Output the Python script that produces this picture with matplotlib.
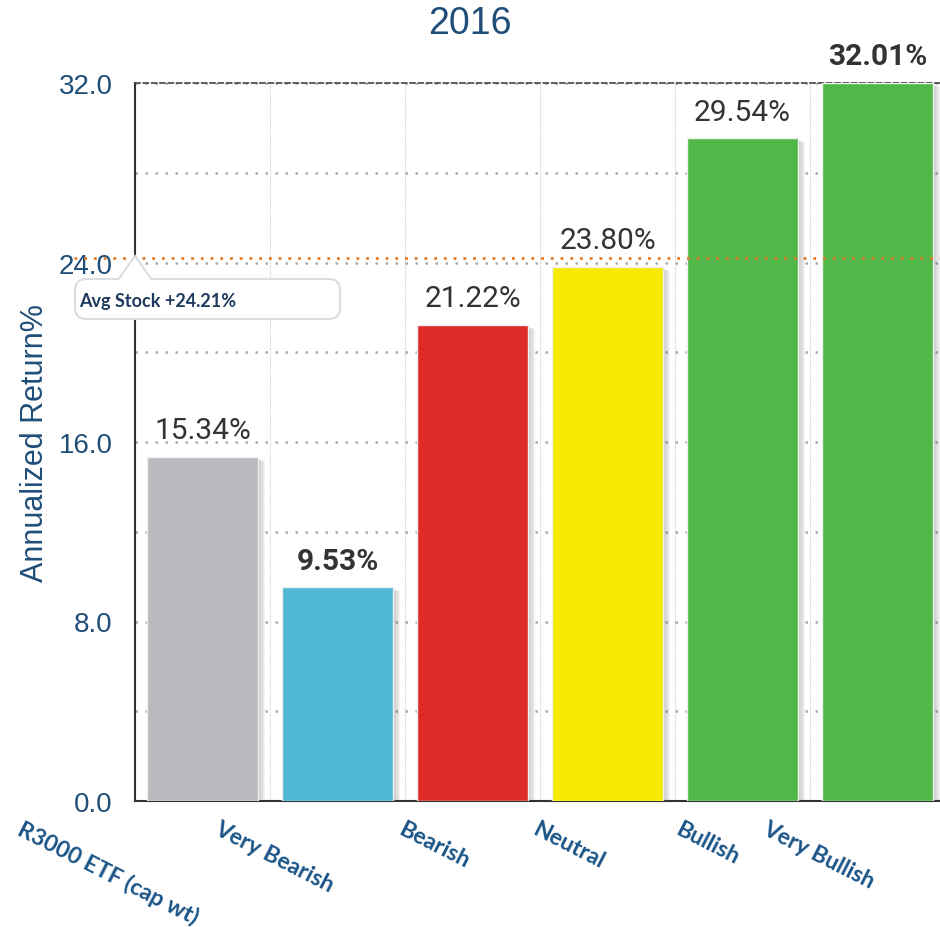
import matplotlib.pyplot as plt
import matplotlib.patheffects as pe
from matplotlib.patches import FancyBboxPatch, Polygon

categories = ['R3000 ETF (cap wt)', 'Very Bearish', 'Bearish', 'Neutral', 'Bullish', 'Very Bullish']
returns = [15.34, 9.53, 21.22, 23.80, 29.54, 32.01]
avg_stock = 24.21
bar_colors = ['#b8babd', '#50b8d3', '#de2b27', '#f6eb00', '#50b748', '#50b748']
bold_labels = ['Very Bearish', 'Very Bullish']

navy = '#1f4e79'

fig = plt.figure(figsize=(9.4, 9.28), dpi=100)
ax = fig.add_axes([135 / 940, 1 - 802 / 928, 810 / 940, 718 / 928])

x = range(len(categories))
# soft shadow on the right of each bar
shadow = [pe.SimplePatchShadow(offset=(k * 0.9, -k * 0.5), shadow_rgbFace='#444444', alpha=0.06)
          for k in range(1, 7)] + [pe.Normal()]
bars = ax.bar(x, returns, width=0.815, color=bar_colors, edgecolor='#f0f0f0', linewidth=1, zorder=3)
for b in bars:
    b.set_path_effects(shadow)

# value labels
for i, v in enumerate(returns):
    w = 'bold' if categories[i] in bold_labels else 'normal'
    ax.annotate(f'{v:.2f}%', (i, v), xytext=(0, 9), textcoords='offset points',
                ha='center', va='bottom', fontsize=21.5, fontfamily='Roboto',
                fontweight=w, color='#333333', zorder=5, annotation_clip=False)

ax.set_xlim(-0.5, 5.5)
ax.set_ylim(0, 32)
ax.set_yticks([0, 8, 16, 24, 32])
ax.set_yticks([4, 12, 20, 28], minor=True)
ax.set_yticklabels([f'{t:.1f}' for t in [0, 8, 16, 24, 32]], fontsize=20,
                   fontfamily='Liberation Sans', color=navy)
ax.set_xticks(list(x))
ax.set_xticks([i + 0.5 for i in range(len(categories) - 1)], minor=True)
ax.set_xticklabels(categories, rotation=-27, ha='right', va='top', rotation_mode='default',
                   fontsize=16.5, fontfamily='Lato', fontweight='bold', color='#1b5588')
ax.tick_params(axis='y', which='both', length=0, pad=16)
ax.tick_params(axis='x', which='both', length=0, pad=12)

ax.grid(axis='y', which='both', color='#aaaaaa', linestyle=(0, (1, 3)), linewidth=1.8, zorder=0)
ax.grid(axis='x', which='minor', color='#cccccc', linestyle=(0, (1, 1)), linewidth=0.8, zorder=0)
ax.set_axisbelow(True)

for s in ['left', 'bottom']:
    ax.spines[s].set_color('#333333')
    ax.spines[s].set_linewidth(1.5)
ax.spines['top'].set_color('#444444')
ax.spines['top'].set_linestyle((0, (3, 2)))
ax.spines['top'].set_linewidth(1.2)
ax.spines['right'].set_visible(False)

ax.set_ylabel('Annualized Return%', fontsize=22, fontfamily='Liberation Sans', color=navy,
              labelpad=6)
fig.suptitle('2016', x=0.5, y=1 - 6 / 928, va='top', fontsize=27,
             fontfamily='Liberation Sans', color=navy)

# average stock line + tooltip
ax.plot([-0.95, 5.5], [avg_stock, avg_stock], color='#e07b2a', linestyle=(0, (1, 2.5)),
        linewidth=2, clip_on=False, zorder=4)

px = lambda a, b: (a / 940, 1 - b / 928)
box = FancyBboxPatch(px(75, 320), 265 / 940, 40 / 928, boxstyle='round,pad=0,rounding_size=0.012',
                     transform=fig.transFigure, fc='white', ec='#dddddd', lw=1.5, zorder=10)
fig.patches.append(box)
tip = Polygon([px(118, 281), px(135, 257), px(152, 281)], closed=False, transform=fig.transFigure,
              fc='white', ec='#dddddd', lw=1.5, zorder=11)
fig.patches.append(tip)
cover = Polygon([px(119, 282), px(135, 259), px(151, 282)], closed=True, transform=fig.transFigure,
                fc='white', ec='none', zorder=12)
fig.patches.append(cover)
fig.text(*px(79, 301), f'Avg Stock +{avg_stock:.2f}%', fontsize=13, fontfamily='Lato',
         fontweight='bold', color='#1f3a5f', va='center', ha='left', zorder=13)

fig.savefig('out.png', dpi=100)
